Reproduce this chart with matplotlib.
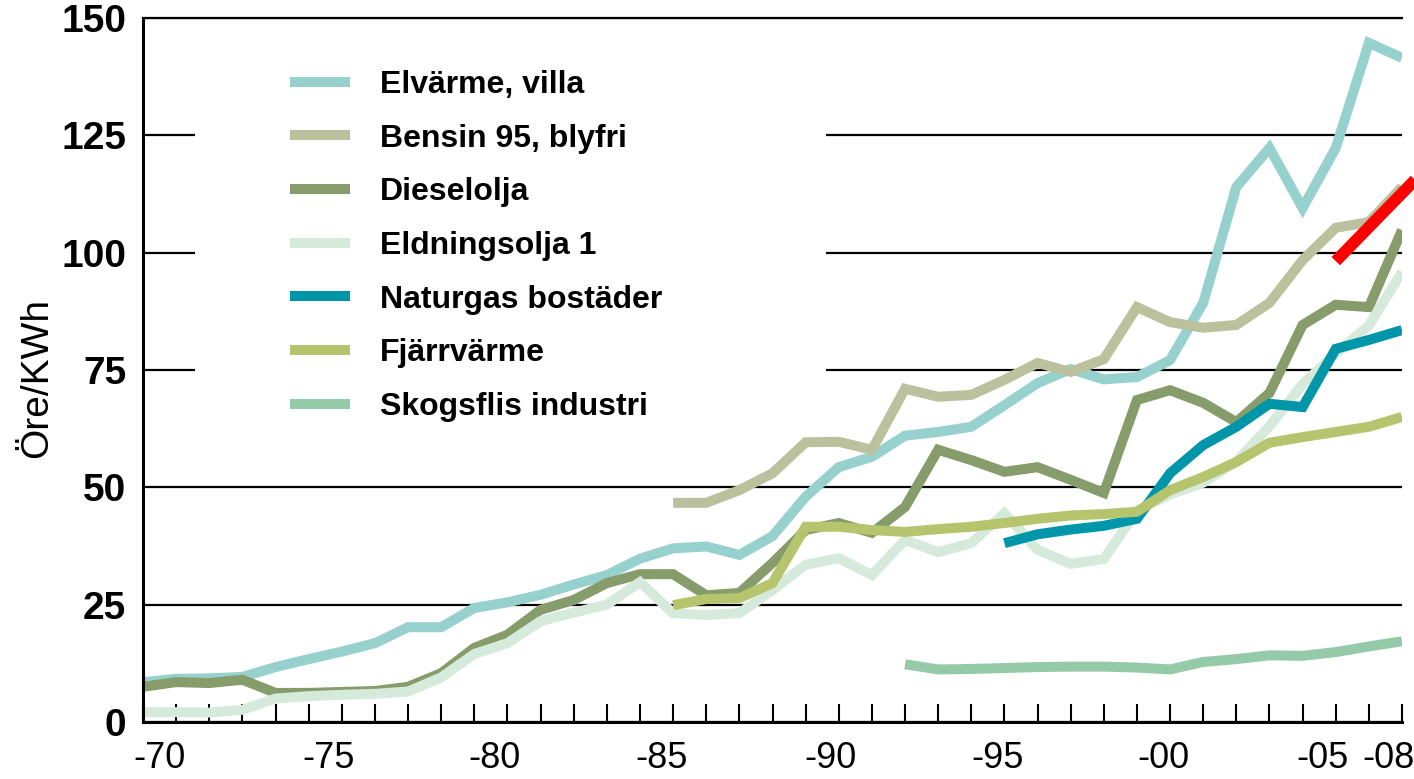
import numpy as np
import matplotlib
matplotlib.use("Agg")
import matplotlib.pyplot as plt
from matplotlib.patches import Rectangle

plt.rcParams['font.family'] = ['Liberation Sans', 'DejaVu Sans']

years = np.arange(1970, 2009)
nan = np.nan

# Öre/kWh, one value per year 1970-2008 (nan = no data)
elvarme = [8.5, 9.2, 9.3, 9.6, 11.7, 13.4, 15.0, 16.8, 20.2, 20.2,
           24.3, 25.5, 27.1, 29.3, 31.3, 34.8, 37.0, 37.4, 35.6, 39.6,
           48.0, 54.3, 56.5, 61.0, 61.8, 62.9, 67.5, 72.2, 75.2, 73.0,
           73.5, 77.1, 89.3, 114.0, 122.3, 109.5, 122.3, 144.7, 141.5]
bensin = [nan] * 16 + [46.7, 46.7, 49.4, 53.0,
                       59.6, 59.7, 58.0, 71.0, 69.3, 69.7, 72.9, 76.5, 74.6, 77.3,
                       88.4, 85.2, 84.0, 84.6, 89.3, 98.4, 105.3, 106.5, 114.0]
diesel = [7.5, 8.5, 8.3, 9.0, 6.2, 6.2, 6.4, 6.6, 7.5, 10.4,
          15.8, 18.6, 23.9, 26.0, 29.6, 31.5, 31.5, 27.0, 27.5, 33.9,
          40.9, 42.4, 40.3, 45.8, 58.0, 55.8, 53.3, 54.3, 51.6, 48.8,
          68.6, 70.7, 68.0, 63.9, 70.1, 84.6, 88.9, 88.4, 104.8]
eldning = [2.1, 2.1, 2.0, 2.6, 5.0, 5.5, 5.8, 6.0, 6.5, 9.5,
           14.5, 16.8, 21.5, 23.3, 25.0, 29.8, 23.2, 22.8, 23.2, 28.1,
           33.5, 34.9, 31.3, 38.8, 36.2, 38.1, 44.5, 36.7, 33.7, 34.7,
           45.0, 48.5, 51.0, 55.5, 63.0, 72.0, 78.5, 84.5, 95.9]
naturgas = [nan] * 26 + [38.1, 40.0, 41.0, 41.8,
                         43.3, 53.0, 59.0, 62.9, 67.8, 67.1, 79.5, 81.4, 83.5]
fjarrvarme = [nan] * 16 + [24.9, 26.2, 26.4, 29.6,
                           41.6, 41.6, 40.9, 40.5, 41.1, 41.6, 42.4, 43.3, 44.0, 44.3,
                           44.8, 49.4, 52.2, 55.4, 59.5, 60.7, 61.8, 62.9, 65.0]
skogsflis = [nan] * 23 + [12.3, 11.2, 11.3, 11.5, 11.7, 11.8, 11.8,
                          11.6, 11.2, 12.8, 13.4, 14.2, 14.1, 14.9, 16.1, 17.2]

labels = ["Elvärme, villa", "Bensin 95, blyfri", "Dieselolja", "Eldningsolja 1",
          "Naturgas bostäder", "Fjärrvärme", "Skogsflis industri"]
colors = ["#96d1cd", "#bcc19d", "#869c6b", "#d6eadb", "#0096a9", "#b6c56d", "#94caa8"]
series = [elvarme, bensin, diesel, eldning, naturgas, fjarrvarme, skogsflis]
draw_order = [3, 6, 5, 1, 4, 0, 2]

# red marker line at the top right
red_x = [2006.0, 2008.6]
red_y = [98.2, 117.0]

xtick_labels = ["-70", "-75", "-80", "-85", "-90", "-95", "-00", "-05", "-08"]
xtick_pos = [1970.5, 1975.6, 1980.6, 1985.65, 1990.75, 1995.8, 2000.8, 2005.6, 2007.6]

W, H = 1414, 779
fig = plt.figure(figsize=(W / 100, H / 100), dpi=100)
ax = fig.add_axes([143 / W, 1 - 722 / H, (1402 - 143) / W, (722 - 18) / H])

handles = {}
for i in draw_order:
    ln, = ax.plot(years, np.array(series[i], dtype=float), color=colors[i], lw=7.2,
                  solid_capstyle='butt', solid_joinstyle='miter', label=labels[i], zorder=2 + i * 0.01)
    handles[i] = ln

ax.plot(red_x, red_y, color="#ff0000", lw=8.5, solid_capstyle='butt', clip_on=False, zorder=5)

ax.set_xlim(1970, 2008)
ax.set_ylim(0, 150)
ax.set_axisbelow(True)

ax.set_yticks(np.arange(0, 151, 25))
ax.yaxis.grid(True, color='black', lw=1.6)
ax.tick_params(axis='y', length=0, pad=12, labelsize=28)
for t in ax.get_yticklabels():
    t.set_fontweight('bold')

ax.set_xticks(years, minor=True)
ax.set_xticks(xtick_pos)
ax.set_xticklabels(xtick_labels)
ax.tick_params(axis='x', which='minor', direction='in', length=13, width=1.5)
ax.tick_params(axis='x', which='major', length=0, pad=14, labelsize=26)

ax.spines['right'].set_visible(False)
ax.spines['left'].set_linewidth(2.2)
ax.spines['bottom'].set_linewidth(2.2)
ax.spines['top'].set_linewidth(1.6)

# white area behind the legend hides the grid lines
x0 = (195 - 143) / (1402 - 143)
x1 = (826 - 143) / (1402 - 143)
y0 = (722 - 450) / (722 - 18)
y1 = (722 - 24) / (722 - 18)
ax.add_patch(Rectangle((x0, y0), x1 - x0, y1 - y0, transform=ax.transAxes,
                       facecolor='white', edgecolor='none', zorder=1))

ax.legend([handles[i] for i in range(7)], labels, loc='upper left',
          bbox_to_anchor=(290 / W, 1 - 70 / H), bbox_transform=fig.transFigure,
          frameon=False, borderpad=0, borderaxespad=0, handlelength=1.875,
          handletextpad=0.94, labelspacing=0.74,
          prop={'size': 23, 'weight': 'bold'})

fig.text(37 / W, 1 - 378 / H, "Öre/KWh", rotation=90, ha='center', va='center', fontsize=28)

fig.savefig("out.png", dpi=100)
